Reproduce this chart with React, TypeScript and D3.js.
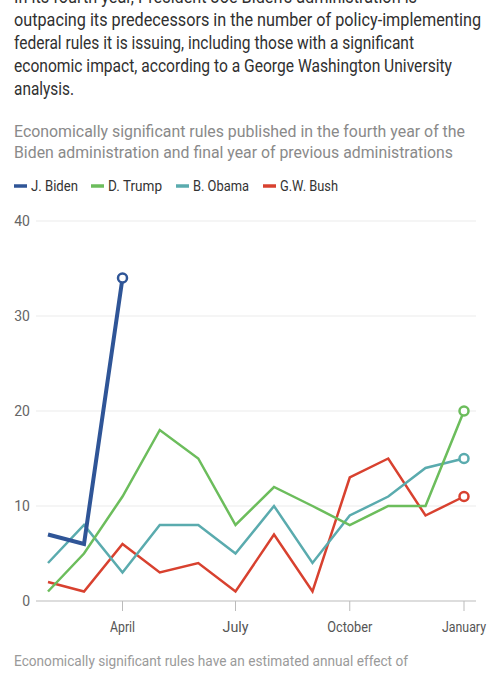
import React from "react";
import * as d3 from "d3";

const months = [
  new Date(2000, 1, 1), new Date(2000, 2, 1), new Date(2000, 3, 1), new Date(2000, 4, 1),
  new Date(2000, 5, 1), new Date(2000, 6, 1), new Date(2000, 7, 1), new Date(2000, 8, 1),
  new Date(2000, 9, 1), new Date(2000, 10, 1), new Date(2000, 11, 1), new Date(2001, 0, 1),
];
const bidenValues = [7, 6, 34];
const trumpValues = [1, 5, 11, 18, 15, 8, 12, 10, 8, 10, 10, 20];
const obamaValues = [4, 8, 3, 8, 8, 5, 10, 4, 9, 11, 14, 15];
const bushValues = [2, 1, 6, 3, 4, 1, 7, 1, 13, 15, 9, 11];
const seriesNames = ["J. Biden", "D. Trump", "B. Obama", "G.W. Bush"];
const seriesColors = ["#2f5597", "#6cbd5c", "#5aabae", "#d8412f"];
const yTicks = [0, 10, 20, 30, 40];
const xTickDates = [new Date(2000, 3, 1), new Date(2000, 6, 1), new Date(2000, 9, 1), new Date(2001, 0, 1)];
const xTickLabels = ["April", "July", "October", "January"];

const titleLines = [
  "In its fourth year, President Joe Biden's administration is",
  "outpacing its predecessors in the number of policy-implementing",
  "federal rules it is issuing, including those with a significant",
  "economic impact, according to a George Washington University",
  "analysis.",
];
const subtitleLines = [
  "Economically significant rules published in the fourth year of the",
  "Biden administration and final year of previous administrations",
];
const noteLine = "Economically significant rules have an estimated annual effect of";

export default function App() {
  const W = 500, H = 675;
  const font = "Roboto, 'Noto Sans', sans-serif";
  const x = d3.scaleTime().domain([months[0], months[11]]).range([48, 464]);
  const y = d3.scaleLinear().domain([0, 40]).range([601, 221]);
  const all = [bidenValues, trumpValues, obamaValues, bushValues];
  const line = d3.line<number>().x((_, i) => x(months[i])).y((d) => y(d));
  const legendX = [14, 91, 176, 263];
  const legendW = [47, 54, 56, 58];
  const titleW = [403, 467, 400, 438, 60];
  const subW = [451, 439];
  const xLabW = [25, 26, 45, 44];

  return (
    <svg width={W} height={H} style={{ position: "absolute", top: 0, left: 0, background: "#fff" }} fontFamily={font}>
      {titleLines.map((t, i) => (
        <text key={t} x={14} y={3 + i * 23} fontSize={19} fill="#303030"
          textLength={titleW[i]} lengthAdjust="spacingAndGlyphs">{t}</text>
      ))}
      {subtitleLines.map((t, i) => (
        <text key={t} x={14} y={137 + i * 20.5} fontSize={17} fill="#8a8a8a"
          textLength={subW[i]} lengthAdjust="spacingAndGlyphs">{t}</text>
      ))}
      {seriesNames.map((n, i) => (
        <g key={n}>
          <line x1={legendX[i]} x2={legendX[i] + 13} y1={186} y2={186} stroke={seriesColors[i]} strokeWidth={3.5} />
          <text x={legendX[i] + 17} y={191} fontSize={15} fill="#333"
            textLength={legendW[i]} lengthAdjust="spacingAndGlyphs">{n}</text>
        </g>
      ))}
      {yTicks.map((t) => (
        <g key={t}>
          {t > 0 && <line x1={36} x2={476} y1={y(t)} y2={y(t)} stroke="#ebebeb" strokeWidth={1} />}
          <text x={30} y={y(t) + 5} fontSize={14} fill="#666" textAnchor="end">{t}</text>
        </g>
      ))}
      <line x1={36} x2={476} y1={y(0)} y2={y(0)} stroke="#bbb" strokeWidth={1} />
      {xTickDates.map((d, i) => (
        <g key={xTickLabels[i]}>
          <line x1={x(d)} x2={x(d)} y1={y(0)} y2={y(0) + 10} stroke="#bbb" strokeWidth={1} />
          <text x={x(d) - xLabW[i] / 2} y={632} fontSize={14} fill="#555"
            textLength={xLabW[i]} lengthAdjust="spacingAndGlyphs">{xTickLabels[i]}</text>
        </g>
      ))}
      {[3, 2, 1, 0].map((si) => (
        <path key={si} d={line(all[si]) || ""} fill="none" stroke={seriesColors[si]}
          strokeWidth={si === 0 ? 4 : 2.5} strokeLinejoin="miter" />
      ))}
      {[3, 2, 1, 0].map((si) => {
        const vals = all[si];
        const last = vals.length - 1;
        return (
          <circle key={si} cx={x(months[last])} cy={y(vals[last])} r={4.5} fill="#fff"
            stroke={seriesColors[si]} strokeWidth={2.5} />
        );
      })}
      <text x={14} y={666} fontSize={15} fill="#9a9a9a" textLength={394} lengthAdjust="spacingAndGlyphs">{noteLine}</text>
    </svg>
  );
}
